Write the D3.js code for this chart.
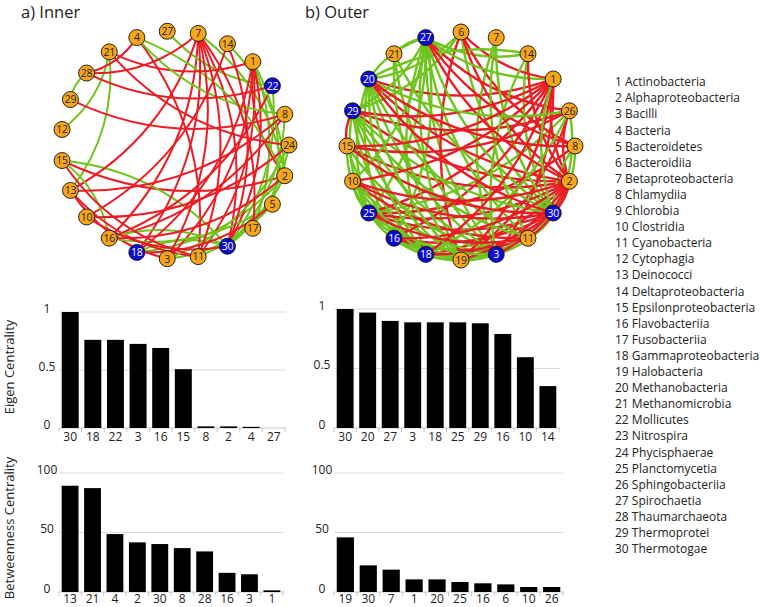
<!DOCTYPE html>
<html><head><meta charset="utf-8">
<script src="https://cdn.jsdelivr.net/npm/d3@7"></script>
<style>
body{margin:0;background:#fff}
svg{display:block}
text{font-family:"Open Sans","Noto Sans",sans-serif}
</style>
</head><body>
<svg id="chart" width="760" height="607"></svg>
<script>
// ---------------- DATA ----------------
const panelTitles = ["a) Inner", "b) Outer"];

// nodes in clockwise circle order
const innerNodes = ["27","7","14","1","22","8","24","2","5","17","30","11","3","18","16","10","13","15","12","29","28","21","4"];
const innerBlue = ["22","30","18"];
const innerRed = [
  ["29","8"],["28","7"],["28","22"],["21","1"],["28","4"],
  ["30","7"],["11","7"],["3","7"],["18","7"],["16","7"],["13","7"],
  ["10","14"],["18","1"],["3","1"],["11","1"],["16","22"],
  ["15","2"],["13","11"],["13","3"],["10","30"],["16","8"],["16","2"],["18","5"],
  ["30","14"],["1","2"],["30","1"],["15","11"],["11","4"],["21","24"],["13","8"],["10","24"],["17","7"]
];
const innerGreen = [
  ["28","29"],["12","21"],["13","21"],["16","15"],["4","8"],["27","22"],["2","7"],
  ["30","22"],["30","8"],["30","24"],["5","1"],["30","15"],["30","16"],["30","18"],
  ["3","5"],["11","2"],["3","24"],["18","2"],["16","5"],["2","4"],["17","1"],["2","14"]
];

const outerNodes = ["6","7","14","1","26","8","2","30","11","3","19","18","16","25","10","15","29","20","21","27"];
const outerBlue = ["27","20","29","25","16","18","3","30"];
const outerRed = [
  ["20","1"],["20","2"],["29","1"],["29","2"],["15","2"],["15","1"],["10","2"],["25","2"],["25","1"],
  ["16","2"],["18","2"],["19","2"],["3","2"],["11","2"],["30","2"],["26","2"],["1","2"],["6","2"],
  ["27","2"],["6","19"],["6","1"],["27","26"],["14","2"],["29","15"],["10","30"],["25","30"],["16","30"],
  ["18","1"],["3","1"],["19","1"],["20","8"],["29","26"],["15","30"],["10","11"],["25","11"],["16","11"],
  ["18","30"],["20","30"],["27","8"],["6","8"],["15","26"],["10","1"],["16","1"],["25","8"],["19","26"]
];
const outerGreen = [
  ["27","21"],["27","14"],["27","1"],["27","30"],["27","11"],["27","3"],["27","19"],["27","18"],["16","27"],
  ["25","27"],["10","27"],["27","20"],["29","27"],["20","6"],["29","6"],["6","30"],
  ["7","30"],["7","3"],["14","30"],["14","20"],["21","3"],["21","19"],
  ["20","26"],["20","3"],["20","19"],["20","18"],["20","16"],["20","25"],["20","11"],
  ["29","30"],["29","11"],["29","3"],["29","18"],["29","25"],["29","19"],
  ["15","3"],["15","18"],["15","25"],["10","3"],["10","19"],["10","25"],
  ["25","3"],["25","19"],["25","18"],["25","26"],
  ["16","3"],["16","19"],["18","3"],["18","26"],
  ["19","30"],["3","30"],["11","30"],["30","8"],["30","26"],["8","30"],["1","30"],
  ["14","3"],["7","11"],["21","30"]
];

// bar data
const innerEigenCats = ["30","18","22","3","16","15","8","2","4","27"];
const innerEigenVals = [1.0,0.76,0.76,0.725,0.69,0.507,0.014,0.014,0.01,0.0];
const innerBetCats = ["13","21","4","2","30","8","28","16","3","1"];
const innerBetVals = [89.3,87.3,48.7,41.7,40.3,36.9,34.1,16.1,14.9,1.4];
const outerEigenCats = ["30","20","27","3","18","25","29","16","10","14"];
const outerEigenVals = [1.0,0.97,0.90,0.888,0.888,0.888,0.88,0.79,0.595,0.352];
const outerBetCats = ["19","30","7","1","20","25","16","6","10","26"];
const outerBetVals = [45.9,22.4,18.8,10.6,10.6,8.4,7.3,6.4,4.2,4.2];

const eigenTicks = [0, 0.5, 1];
const betTicks = [0, 50, 100];
const axisTitles = ["Eigen Centrality", "Betweenness Centrality"];

const legendItems = ["1 Actinobacteria","2 Alphaproteobacteria","3 Bacilli","4 Bacteria","5 Bacteroidetes",
  "6 Bacteroidiia","7 Betaproteobacteria","8 Chlamydiia","9 Chlorobia","10 Clostridia","11 Cyanobacteria",
  "12 Cytophagia","13 Deinococci","14 Deltaproteobacteria","15 Epsilonproteobacteria","16 Flavobacteriia",
  "17 Fusobacteriia","18 Gammaproteobacteria","19 Halobacteria","20 Methanobacteria","21 Methanomicrobia",
  "22 Mollicutes","23 Nitrospira","24 Phycisphaerae","25 Planctomycetia","26 Sphingobacteriia",
  "27 Spirochaetia","28 Thaumarchaeota","29 Thermoprotei","30 Thermotogae"];

// ---------------- DRAW ----------------
const RED = "#ec1c24", GREEN = "#6fc41e", ORANGE = "#f7a51b", BLUE = "#0b0bd0";
const svg = d3.select("#chart");

svg.append("text").attr("x", 21).attr("y", 18).attr("font-size", 16.5).attr("fill", "#222").text(panelTitles[0]);
svg.append("text").attr("x", 305).attr("y", 18).attr("font-size", 16.5).attr("fill", "#222").text(panelTitles[1]);

function drawNetwork(cx, cy, r, nodes, blue, red, green, startDeg, curv, sw) {
  const n = nodes.length;
  const ang = d3.scalePoint().domain(nodes).range([startDeg, startDeg + 360 * (n - 1) / n]);
  const pos = id => {
    const a = ang(id) * Math.PI / 180;
    return [cx + r * Math.sin(a), cy - r * Math.cos(a)];
  };
  const g = svg.append("g");
  const edgePath = e => {
    const [x1, y1] = pos(e[0]), [x2, y2] = pos(e[1]);
    const mx = (x1 + x2) / 2, my = (y1 + y2) / 2;
    const dx = x2 - x1, dy = y2 - y1;
    const p = d3.path();
    p.moveTo(x1, y1);
    p.quadraticCurveTo(mx - dy * curv, my + dx * curv, x2, y2);
    return p.toString();
  };
  const all = green.map(e => ({e, c: GREEN})).concat(red.map(e => ({e, c: RED})));
  all.sort((a, b) => d3.ascending((+a.e[0] * 7 + +a.e[1] * 3) % 11, (+b.e[0] * 7 + +b.e[1] * 3) % 11));
  g.selectAll("path.edge").data(all).join("path")
    .attr("class", "edge").attr("d", d => edgePath(d.e))
    .attr("fill", "none").attr("stroke", d => d.c).attr("stroke-width", sw)
    .attr("stroke-linecap", "round");
  const ng = g.selectAll("g.node").data(nodes).join("g").attr("class", "node")
    .attr("transform", d => `translate(${pos(d)})`);
  ng.append("circle").attr("r", 8)
    .attr("fill", d => blue.includes(d) ? BLUE : ORANGE)
    .attr("stroke", "#111").attr("stroke-width", 0.9);
  ng.append("text").attr("text-anchor", "middle").attr("dy", "0.36em")
    .attr("font-size", 10.5).attr("letter-spacing", -0.3)
    .attr("fill", d => blue.includes(d) ? "#fff" : "#222").text(d => d);
}

drawNetwork(175, 145, 114, innerNodes, innerBlue, innerRed, innerGreen, 90 - 6 * 360 / 23, 0.2, 2);
drawNetwork(461, 146, 114, outerNodes, outerBlue, outerRed, outerGreen, 0, 0.18, 2.4);

function drawBars(x0, x1, y0, y1, cats, vals, max, ticks) {
  const x = d3.scaleBand().domain(cats).range([x0, x1]).paddingInner(0.25).paddingOuter(0.12);
  const y = d3.scaleLinear().domain([0, max]).range([y0, y1]);
  const g = svg.append("g");
  g.selectAll("line.grid").data(ticks.filter(t => t > 0)).join("line")
    .attr("x1", x0).attr("x2", x1 + 1).attr("y1", d => y(d)).attr("y2", d => y(d))
    .attr("stroke", "#dcdcdc").attr("stroke-width", 1);
  g.append("line").attr("x1", x0).attr("x2", x1 + 1).attr("y1", y0).attr("y2", y0)
    .attr("stroke", "#c8c8c8").attr("stroke-width", 1);
  const step = x.step();
  const tickX = cats.map(c => x(c) - step * x.paddingInner() / 2).concat([x1]);
  g.selectAll("line.tk").data(tickX).join("line")
    .attr("x1", d => d).attr("x2", d => d).attr("y1", y0).attr("y2", y0 + 4)
    .attr("stroke", "#c8c8c8");
  g.selectAll("rect").data(cats).join("rect")
    .attr("x", c => x(c)).attr("width", x.bandwidth())
    .attr("y", (c, i) => y(vals[i])).attr("height", (c, i) => y0 - y(vals[i]))
    .attr("fill", "#000");
  g.selectAll("text.cat").data(cats).join("text")
    .attr("x", c => x(c) + x.bandwidth() / 2).attr("y", Math.min(y0 + 13, 603))
    .attr("text-anchor", "middle").attr("font-size", 12).attr("fill", "#222").text(c => c);
  g.selectAll("text.yt").data(ticks).join("text")
    .attr("x", x0 - 12).attr("y", d => y(d) + 0.5)
    .attr("text-anchor", "middle").attr("font-size", 12).attr("fill", "#222")
    .text(d => d3.format("~g")(d));
}

drawBars(59, 285, 428, 312, innerEigenCats, innerEigenVals, 1, eigenTicks);
drawBars(59, 283, 592, 473, innerBetCats, innerBetVals, 100, betTicks);
drawBars(334, 559, 428, 309, outerEigenCats, outerEigenVals, 1, eigenTicks);
drawBars(334, 563, 592, 473, outerBetCats, outerBetVals, 100, betTicks);

svg.append("text").attr("transform", "translate(14,367) rotate(-90)")
  .attr("text-anchor", "middle").attr("font-size", 13).attr("fill", "#222").text(axisTitles[0]);
svg.append("text").attr("transform", "translate(14,528) rotate(-90)")
  .attr("text-anchor", "middle").attr("font-size", 13).attr("fill", "#222").text(axisTitles[1]);

const ly = d3.scalePoint().domain(legendItems).range([82, 549]);
svg.append("g").selectAll("text").data(legendItems).join("text")
  .attr("x", 615).attr("y", d => ly(d)).attr("dy", "0.35em")
  .attr("font-size", 12).attr("fill", "#222").text(d => d);
</script>
</body></html>
